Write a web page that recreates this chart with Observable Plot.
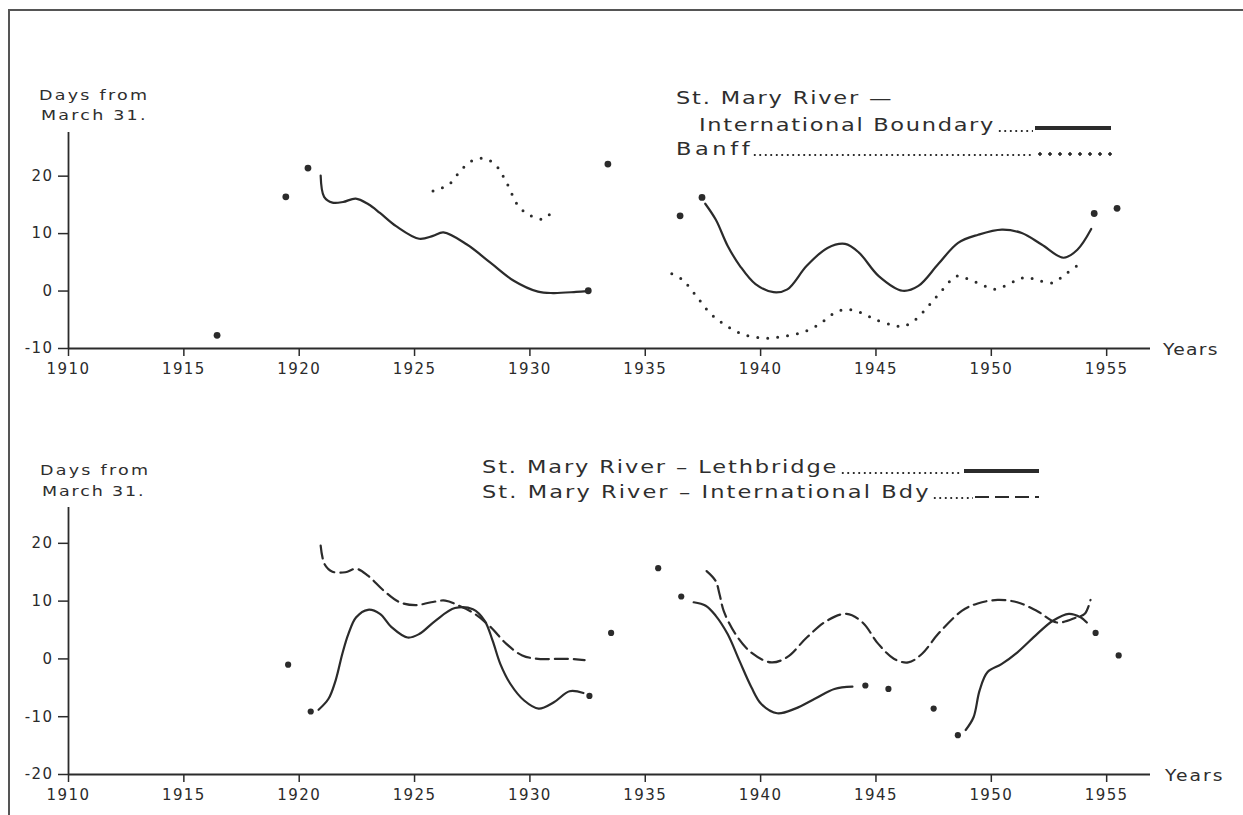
<!DOCTYPE html>
<html>
<head>
<meta charset="utf-8">
<script src="https://cdn.jsdelivr.net/npm/d3@7"></script>
<script src="https://cdn.jsdelivr.net/npm/@observablehq/plot@0.6"></script>
<style>
  html, body { margin: 0; padding: 0; background: #fff; }
  #fig { position: relative; width: 1243px; height: 815px; overflow: hidden; background: #fff;
         font-family: "DejaVu Sans", sans-serif; color: #2e2e2e; }
  .panel { position: absolute; left: 0; }
  .panel svg { display: block; }
  .lbl { position: absolute; white-space: nowrap; line-height: 1; margin: 0; transform-origin: 0 0; }
  .edge { position: absolute; background: #555; }
  .leader { position: absolute; height: 2px;
    background-image: radial-gradient(circle, #2e2e2e 0.9px, transparent 1.3px);
    background-size: 5.5px 2px; background-repeat: repeat-x; }
  .sample { position: absolute; }
</style>
</head>
<body>
<div id="fig"></div>
<script>
// ---------------- DATA ----------------
const yearTicks = [1910, 1915, 1920, 1925, 1930, 1935, 1940, 1945, 1950, 1955];
const topDayTicks = [-10, 0, 10, 20];
const bottomDayTicks = [-20, -10, 0, 10, 20];

// Upper chart: St. Mary River - International Boundary (solid)
const topIntlA_year = [1920.93, 1921.08, 1921.44, 1921.9, 1922.45, 1923.0, 1923.5, 1924.2, 1925.2, 1925.8, 1926.25, 1927.27, 1928.3, 1929.3, 1930.35, 1931.0, 1932.0, 1932.5];
const topIntlA_days = [20.1, 16.4, 15.4, 15.5, 16.1, 15.1, 13.6, 11.3, 9.1, 9.6, 10.2, 8.1, 4.9, 1.8, -0.1, -0.35, -0.15, 0.0];
const topIntlB_year = [1937.6, 1938.06, 1938.58, 1939.1, 1939.78, 1940.56, 1941.16, 1942.0, 1942.9, 1943.66, 1944.26, 1945.12, 1946.15, 1946.84, 1947.7, 1948.56, 1949.43, 1950.46, 1951.32, 1952.18, 1953.13, 1953.73, 1954.33];
const topIntlB_days = [15.2, 12.4, 7.8, 4.4, 1.2, -0.2, 0.3, 4.4, 7.5, 8.2, 6.7, 2.6, 0.05, 0.9, 4.7, 8.4, 9.8, 10.7, 10.1, 8.1, 5.8, 7.2, 10.8];

// Upper chart: Banff (dotted)
const banffA_year = [1925.8, 1926.5, 1927.0, 1927.5, 1928.0, 1928.5, 1929.0, 1929.5, 1930.0, 1930.6, 1930.9];
const banffA_days = [17.4, 18.6, 21.0, 22.7, 23.1, 22.0, 18.8, 14.8, 13.2, 12.5, 13.6];
const banffB_year = [1936.15, 1936.6, 1937.2, 1937.8, 1938.5, 1939.3, 1940.2, 1941.0, 1941.8, 1942.5, 1943.2, 1943.7, 1944.3, 1945.0, 1945.8, 1946.2, 1946.7, 1947.3, 1947.9, 1948.5, 1949.0, 1949.7, 1950.15, 1950.6, 1951.1, 1951.5, 1952.0, 1952.65, 1953.05, 1953.4, 1953.75];
const banffB_days = [3.0, 2.0, -0.8, -3.8, -6.0, -7.6, -8.2, -7.9, -7.2, -5.9, -3.8, -3.2, -3.7, -5.0, -6.0, -6.1, -5.0, -2.5, 0.3, 2.6, 2.1, 0.9, 0.3, 0.9, 1.9, 2.4, 1.9, 1.4, 2.4, 3.5, 4.5];

// Upper chart: isolated points
const topPt_year = [1916.44, 1919.42, 1920.38, 1932.53, 1933.38, 1936.51, 1937.46, 1954.46, 1955.45];
const topPt_days = [-7.7, 16.4, 21.4, 0.05, 22.1, 13.1, 16.3, 13.5, 14.4];

// Lower chart: St. Mary River - Lethbridge (solid)
const lethA_year = [1920.84, 1921.27, 1921.58, 1921.87, 1922.13, 1922.47, 1922.98, 1923.5, 1924.0, 1924.7, 1925.2, 1925.9, 1926.75, 1927.53, 1928.04, 1928.38, 1928.72, 1929.15, 1929.75, 1930.38, 1931.04, 1931.72, 1932.32];
const lethA_days = [-8.8, -6.9, -3.7, 0.9, 4.3, 7.2, 8.5, 7.8, 5.5, 3.7, 4.3, 6.6, 8.8, 8.6, 6.6, 3.2, -0.9, -4.3, -7.2, -8.6, -7.5, -5.6, -5.9];
const lethB_year = [1937.1, 1937.62, 1938.05, 1938.57, 1939.08, 1939.6, 1940.03, 1940.72, 1941.5, 1942.35, 1943.2, 1943.98];
const lethB_days = [9.8, 9.2, 7.5, 4.3, -0.3, -4.9, -7.8, -9.4, -8.6, -6.9, -5.2, -4.8];
const lethC_year = [1948.89, 1949.23, 1949.49, 1949.83, 1950.44, 1951.12, 1951.98, 1952.67, 1953.36, 1953.87, 1954.14];
const lethC_days = [-12.3, -10.1, -5.5, -2.3, -0.9, 1.1, 4.3, 6.6, 7.8, 7.2, 6.3];

// Lower chart: St. Mary River - International Bdy (dashed)
const bdyA_year = [1920.93, 1921.1, 1921.44, 1922.0, 1922.47, 1922.98, 1923.67, 1924.36, 1925.04, 1925.72, 1926.33, 1926.93, 1927.61, 1928.3, 1928.98, 1929.67, 1930.35, 1931.04, 1931.7, 1932.37];
const bdyA_days = [19.6, 16.4, 15.1, 15.0, 15.6, 14.4, 11.8, 9.8, 9.3, 9.8, 10.1, 9.2, 7.8, 5.5, 2.6, 0.6, 0.0, 0.0, 0.0, -0.2];
const bdyB_year = [1937.66, 1938.05, 1938.22, 1938.4, 1938.91, 1939.6, 1940.46, 1941.15, 1942.0, 1942.87, 1943.73, 1944.42, 1945.1, 1945.79, 1946.4, 1947.0, 1947.69, 1948.72, 1949.41, 1950.27, 1951.12, 1951.98, 1952.84, 1953.7, 1954.05, 1954.3];
const bdyB_days = [15.2, 13.5, 11.2, 8.3, 4.3, 1.1, -0.6, 0.3, 3.7, 6.6, 7.8, 6.3, 2.6, 0.0, -0.6, 0.9, 4.3, 8.3, 9.6, 10.2, 9.8, 8.3, 6.3, 7.2, 7.8, 10.2];

// Lower chart: isolated points
const botPt_year = [1919.52, 1920.5, 1932.58, 1933.52, 1935.56, 1936.56, 1944.54, 1945.54, 1947.5, 1948.55, 1954.52, 1955.52];
const botPt_days = [-1.0, -9.1, -6.4, 4.5, 15.7, 10.8, -4.6, -5.2, -8.6, -13.2, 4.5, 0.6];

// ---------------- HELPERS ----------------
const INK = "#2b2b2b";
function rows(years, days, seg) { return years.map((y, i) => ({year: y, days: days[i], seg})); }
const fmt = d => String(d);

const fig = document.getElementById("fig");

function panel(top, height, opts, marks) {
  const div = document.createElement("div");
  div.className = "panel";
  div.style.top = top + "px";
  const chart = Plot.plot({
    width: 1243,
    height,
    marginLeft: 68,
    marginRight: 93,
    marginTop: opts.marginTop,
    marginBottom: opts.marginBottom,
    x: {domain: [1910, 1956.9], label: null},
    y: {domain: opts.yDomain, label: null},
    style: {fontFamily: "DejaVu Sans, sans-serif", fontSize: "15px", color: INK, background: "transparent", letterSpacing: "1.4px"},
    marks: [
      Plot.ruleX([1910], {stroke: INK, strokeWidth: 1.8}),
      Plot.ruleY([opts.yDomain[0]], {stroke: INK, strokeWidth: 1.8}),
      Plot.axisX(yearTicks, {tickSize: 8, tickPadding: 7, tickFormat: fmt, label: null, stroke: INK, strokeWidth: 1.5}),
      Plot.axisY(opts.yTicks, {tickSize: 10, tickPadding: 5, tickFormat: fmt, label: null, stroke: INK, strokeWidth: 1.5}),
      ...marks
    ]
  });
  div.appendChild(chart);
  fig.appendChild(div);
}

const solid = {x: "year", y: "days", z: "seg", curve: "catmull-rom", stroke: INK, strokeWidth: 2.2};
const dotted = {x: "year", y: "days", z: "seg", curve: "catmull-rom", stroke: INK, strokeWidth: 3, strokeDasharray: "0 10", strokeLinecap: "round"};
const dashed = {x: "year", y: "days", z: "seg", curve: "catmull-rom", stroke: INK, strokeWidth: 2.2, strokeDasharray: "13 6"};

// Upper panel
panel(0, 400, {marginTop: 132, marginBottom: 52, yDomain: [-10, 27.6], yTicks: topDayTicks}, [
  Plot.line([...rows(topIntlA_year, topIntlA_days, "a"), ...rows(topIntlB_year, topIntlB_days, "b")], solid),
  Plot.line([...rows(banffA_year, banffA_days, "a"), ...rows(banffB_year, banffB_days, "b")], dotted),
  Plot.dot(rows(topPt_year, topPt_days, "p"), {x: "year", y: "days", r: 3.4, fill: INK, stroke: "none"})
]);

// Lower panel
panel(400, 415, {marginTop: 107, marginBottom: 41, yDomain: [-20, 26.2], yTicks: bottomDayTicks}, [
  Plot.line([...rows(lethA_year, lethA_days, "a"), ...rows(lethB_year, lethB_days, "b"), ...rows(lethC_year, lethC_days, "c")], solid),
  Plot.line([...rows(bdyA_year, bdyA_days, "a"), ...rows(bdyB_year, bdyB_days, "b")], dashed),
  Plot.dot(rows(botPt_year, botPt_days, "p"), {x: "year", y: "days", r: 3.1, fill: INK, stroke: "none"})
]);

// ---------------- FRAME ----------------
function edge(l, t, w, h) {
  const e = document.createElement("div");
  e.className = "edge";
  Object.assign(e.style, {left: l + "px", top: t + "px", width: w + "px", height: h + "px"});
  fig.appendChild(e);
}
edge(8, 9, 1235, 2);
edge(8, 9, 1.5, 806);

// ---------------- TEXT LABELS (fit to width, widened lettering) ----------------
function label(text, left, capCenter, fontSize, width, sx) {
  sx = sx || 1.25;
  const d = document.createElement("div");
  d.className = "lbl";
  d.textContent = text;
  d.style.fontSize = fontSize + "px";
  d.style.left = left + "px";
  d.style.top = (capCenter - 0.48 * fontSize) + "px";
  fig.appendChild(d);
  const w0 = d.offsetWidth;
  const n = [...text].length;
  const ls = Math.max(0, (width / sx - w0) / Math.max(1, n - 1));
  d.style.letterSpacing = ls + "px";
  d.style.transform = "scaleX(" + sx + ")";
  return d;
}
function leader(x1, x2, baseline) {
  const e = document.createElement("div");
  e.className = "leader";
  Object.assign(e.style, {left: x1 + "px", top: (baseline - 2) + "px", width: (x2 - x1) + "px"});
  fig.appendChild(e);
}
function sample(kind, x1, x2, y) {
  const e = document.createElement("div");
  e.className = "sample";
  const s = {left: x1 + "px", width: (x2 - x1) + "px"};
  if (kind === "solid") {
    Object.assign(s, {top: (y - 1.6) + "px", height: "3.2px", background: INK});
  } else if (kind === "dotted") {
    Object.assign(s, {top: (y - 2) + "px", height: "4px",
      backgroundImage: "radial-gradient(circle, " + INK + " 1.5px, transparent 1.9px)",
      backgroundSize: "10px 4px", backgroundRepeat: "repeat-x", backgroundPosition: "0 0"});
  } else {
    Object.assign(s, {top: (y - 1.3) + "px", height: "2.6px",
      backgroundImage: "repeating-linear-gradient(to right, " + INK + " 0 14px, transparent 14px 20px)"});
  }
  Object.assign(e.style, s);
  fig.appendChild(e);
}

// axis titles
label("Days from", 39, 95, 14, 108);
label("March 31.", 41, 115, 14, 104);
label("Days from", 40, 470, 14, 108);
label("March 31.", 42, 491, 14, 101);
label("Years", 1163, 350, 15, 55);
label("Years", 1165, 776, 15, 58);

// upper legend
label("St. Mary River —", 676, 98, 18, 216);
label("International Boundary", 699, 125, 18, 294);
leader(997, 1033, 125 + 6.6);
sample("solid", 1035, 1111, 128);
label("Banff", 676, 149, 18, 73);
leader(752, 1033, 149 + 6.6);
sample("dotted", 1035, 1113, 154);

// lower legend
label("St. Mary River – Lethbridge", 482, 467, 18, 354);
leader(840, 962, 467 + 6.6);
sample("solid", 964, 1039, 471);
label("St. Mary River – International Bdy", 482, 492, 18, 446);
leader(932, 973, 492 + 6.6);
sample("dashed", 975, 1039, 497);
</script>
</body>
</html>
